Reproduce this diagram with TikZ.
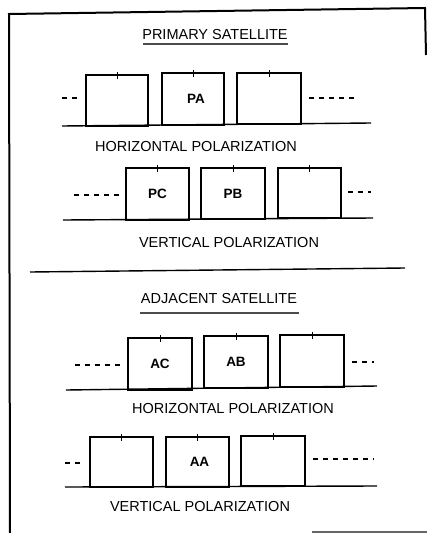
\documentclass[tikz,border=0pt]{standalone}
\usepackage{fontspec}
\setmainfont{Liberation Sans}
\begin{document}
\begin{tikzpicture}[x=1pt,y=-1pt,
  chan/.style={draw, line width=1.1pt, rectangle, inner sep=0pt, outer sep=0pt, anchor=south west, font=\bfseries\fontsize{13.5}{15}\selectfont},
  tickmark/.style={line width=1pt},
  base/.style={line width=1.4pt},
  dashline/.style={line width=1.1pt, dash pattern=on 5pt off 5pt},
  title/.style={font=\fontsize{14.5}{16}\selectfont},
  caption/.style={font=\fontsize{14.5}{16}\selectfont},
  frame/.style={line width=2pt},
  uline/.style={line width=2pt, black!70}]
\useasboundingbox (0,0) rectangle (427,533);
% frame
\draw[frame] (10,533) -- (9,14) -- (425,8) -- (426,55);
\draw[line width=2pt, black!60] (312,532) -- (427,532);

% ---------- primary satellite ----------
\node[title] (t1) at (215,35) {PRIMARY SATELLITE};
\draw[uline] (143,44) -- (288,44);

\coordinate (b1l) at (62,126);
\coordinate (b1r) at (371,123);
\draw[base] (b1l) -- (b1r);
\node[chan, minimum width=62pt, minimum height=51pt] (p1) at (86,126) {};
\node[chan, minimum width=62pt, minimum height=52pt] (p2) at (162,125) {\hspace*{6pt}PA};
\node[chan, minimum width=64pt, minimum height=51pt] (p3) at (237,124) {};
\foreach \n in {p1,p2,p3}
  \draw[tickmark] ([yshift=3pt]\n.north) -- ([yshift=-4pt]\n.north);
\coordinate (d1a) at (62,98); \coordinate (d1b) at (80,98);
\draw[dashline] (d1a) -- (d1b);
\coordinate (d1c) at (309,98); \coordinate (d1d) at (355,98);
\draw[dashline] (d1c) -- (d1d);
\node[caption] (c1) at (196,147) {HORIZONTAL POLARIZATION};

\coordinate (b2l) at (63,220);
\coordinate (b2r) at (373,218);
\draw[base] (b2l) -- (b2r);
\node[chan, minimum width=63pt, minimum height=52pt] (q1) at (126,220) {PC};
\node[chan, minimum width=64pt, minimum height=51pt] (q2) at (201,219) {PB};
\node[chan, minimum width=63pt, minimum height=50pt] (q3) at (278,218) {};
\foreach \n in {q1,q2,q3}
  \draw[tickmark] ([yshift=3pt]\n.north) -- ([yshift=-4pt]\n.north);
\coordinate (d2a) at (74,195); \coordinate (d2b) at (119,195);
\draw[dashline] (d2a) -- (d2b);
\coordinate (d2c) at (348,192); \coordinate (d2d) at (371,192);
\draw[dashline] (d2c) -- (d2d);
\node[caption] (c2) at (229,243) {VERTICAL POLARIZATION};

% separator
\coordinate (s1) at (30,272); \coordinate (s2) at (405,268);
\draw[line width=1.4pt] (s1) -- (s2);

% ---------- adjacent satellite ----------
\node[title] (t2) at (219,299) {ADJACENT SATELLITE};
\draw[uline] (140,313) -- (299,313);

\coordinate (b3l) at (66,390);
\coordinate (b3r) at (377,386);
\draw[base] (b3l) -- (b3r);
\node[chan, minimum width=64pt, minimum height=52pt] (r1) at (128,390) {AC};
\node[chan, minimum width=64pt, minimum height=52pt] (r2) at (204,388) {AB};
\node[chan, minimum width=64pt, minimum height=52pt] (r3) at (280,387) {};
\foreach \n in {r1,r2,r3}
  \draw[tickmark] ([yshift=3pt]\n.north) -- ([yshift=-4pt]\n.north);
\coordinate (d3a) at (75,365); \coordinate (d3b) at (121,365);
\draw[dashline] (d3a) -- (d3b);
\coordinate (d3c) at (352,362); \coordinate (d3d) at (374,362);
\draw[dashline] (d3c) -- (d3d);
\node[caption] (c3) at (233,409) {HORIZONTAL POLARIZATION};

\coordinate (b4l) at (65,487);
\coordinate (b4r) at (377,486);
\draw[base] (b4l) -- (b4r);
\node[chan, minimum width=63pt, minimum height=50pt] (u1) at (90,487) {};
\node[chan, minimum width=63pt, minimum height=50pt] (u2) at (166,487) {\hspace*{4pt}AA};
\node[chan, minimum width=64pt, minimum height=50pt] (u3) at (241,486) {};
\foreach \n in {u1,u2,u3}
  \draw[tickmark] ([yshift=3pt]\n.north) -- ([yshift=-4pt]\n.north);
\coordinate (d4a) at (65,463); \coordinate (d4b) at (84,463);
\draw[dashline] (d4a) -- (d4b);
\coordinate (d4c) at (313,459); \coordinate (d4d) at (374,459);
\draw[dashline] (d4c) -- (d4d);
\node[caption] (c4) at (200,507) {VERTICAL POLARIZATION};
\end{tikzpicture}
\end{document}
